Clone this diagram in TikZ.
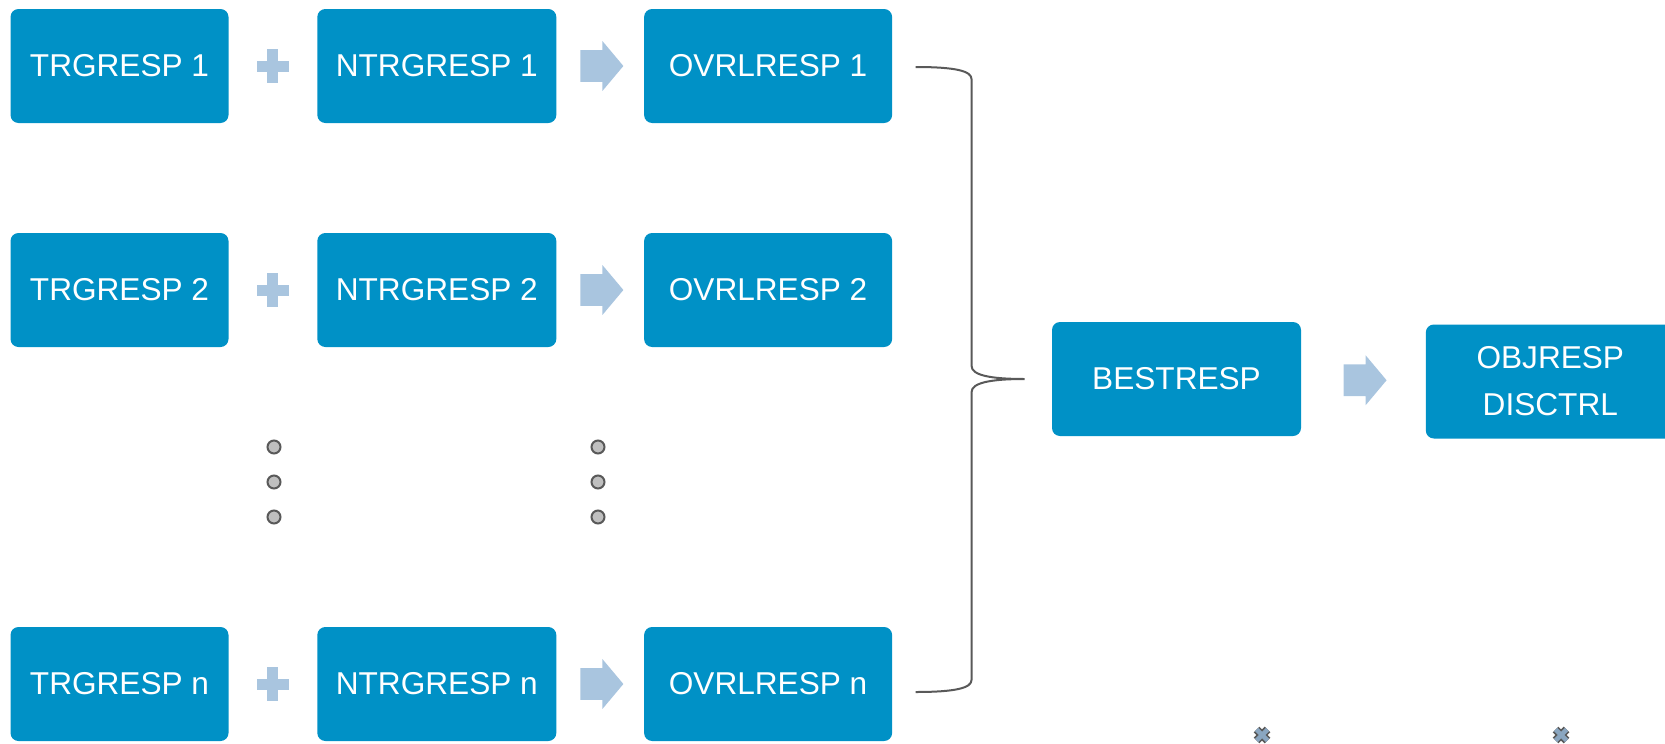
\documentclass[tikz,border=0pt]{standalone}
\usepackage{fontspec}
\setmainfont{Liberation Sans}
\usetikzlibrary{positioning,calc,shapes.arrows}
\definecolor{boxblue}{HTML}{0091C6}
\definecolor{symblue}{HTML}{A9C5DF}
\definecolor{dotgray}{HTML}{BFBFBF}
\definecolor{linegray}{HTML}{595959}
\definecolor{markblue}{HTML}{8AA6C0}

\begin{document}
\begin{tikzpicture}[
  x=0.5pt, y=-0.5pt,
  font=\fontsize{15.8pt}{23.5pt}\selectfont,
  box/.style={fill=boxblue, rounded corners=4pt, text=white, align=center,
              inner sep=2pt, minimum height=57pt},
  col1/.style={box, minimum width=109pt},
  col2/.style={box, minimum width=119.5pt},
  col3/.style={box, minimum width=124pt},
  fatarr/.style={single arrow, fill=symblue, draw=none, xshift=-2.5pt,
                 inner xsep=0pt, inner ysep=7.75pt, minimum height=21.5pt,
                 single arrow head extend=4.5pt, single arrow tip angle=100},
  plus/.style={fill=symblue},
  dot/.style={fill=dotgray, draw=linegray, line width=1pt},
  brace/.style={draw=linegray, line width=1pt},
]
\useasboundingbox (0,0) rectangle (1665,744);

% three rows of responses
\node[col1] (t1) at (119.5,66) {TRGRESP 1};
\node[col2, right=44pt of t1] (n1) {NTRGRESP 1};
\node[col3, right=43.5pt of n1] (o1) {OVRLRESP 1};

\node[col1] (t2) at (119.5,290) {TRGRESP 2};
\node[col2, right=44pt of t2] (n2) {NTRGRESP 2};
\node[col3, right=43.5pt of n2] (o2) {OVRLRESP 2};

\node[col1] (tn) at (119.5,684) {TRGRESP n};
\node[col2, right=44pt of tn] (nn) {NTRGRESP n};
\node[col3, right=43.5pt of nn] (on) {OVRLRESP n};

% plus signs and block arrows between the boxes
\foreach \a/\b/\c in {t1/n1/o1, t2/n2/o2, tn/nn/on} {
  \coordinate (p) at ($(\a.east)!.5!(\b.west)$);
  \fill[plus] ($(p)+(-16,-5.5)$) rectangle ($(p)+(16,5.5)$);
  \fill[plus] ($(p)+(-5.5,-17)$) rectangle ($(p)+(5.5,17)$);
  \node[fatarr] at ($(\b.east)!.5!(\c.west)$) {};
}

% vertical dots
\foreach \x in {274,598}
  \foreach \y in {447,482,517}
    \draw[dot] (\x,\y) circle (6.5);

\node[box, minimum width=124.5pt] (best) at (1176.5,379) {BESTRESP};
\node[box, minimum width=124.5pt, right=62pt of best, yshift=-1.25pt] (obj) {OBJRESP\\DISCTRL};
\node[fatarr] (a2) at ($(best.east)!.5!(obj.west)$) {};

% curly brace
\coordinate (btop) at ($(o1.east)+(23,1)$);
\coordinate (bbot) at ($(on.east)+(23,8)$);
\coordinate (btip) at ($(best.west)+(-27,0)$);
\draw[brace] (btop) .. controls +(40,0) and +(0,-8) .. ($(btop)+(56,12)$)
  -- ($(btip)+(-53,-13)$) .. controls +(0,9) and +(-35,0) .. (btip)
  .. controls +(-35,0) and +(0,-9) .. ($(btip)+(-53,13)$)
  -- ($(bbot)+(56,-12)$) .. controls +(0,8) and +(40,0) .. (bbot);

% small marks at the bottom
\coordinate (xm1) at (1262,735);
\coordinate (xm2) at (1561,735);
\foreach \m in {xm1,xm2} {
  \draw[linegray, line width=4pt] ($(\m)+(-5.5,-5.5)$) -- ($(\m)+(5.5,5.5)$)
    ($(\m)+(-5.5,5.5)$) -- ($(\m)+(5.5,-5.5)$);
  \draw[markblue, line width=2.3pt] ($(\m)+(-5.5,-5.5)$) -- ($(\m)+(5.5,5.5)$)
    ($(\m)+(-5.5,5.5)$) -- ($(\m)+(5.5,-5.5)$);
}
\end{tikzpicture}
\end{document}
